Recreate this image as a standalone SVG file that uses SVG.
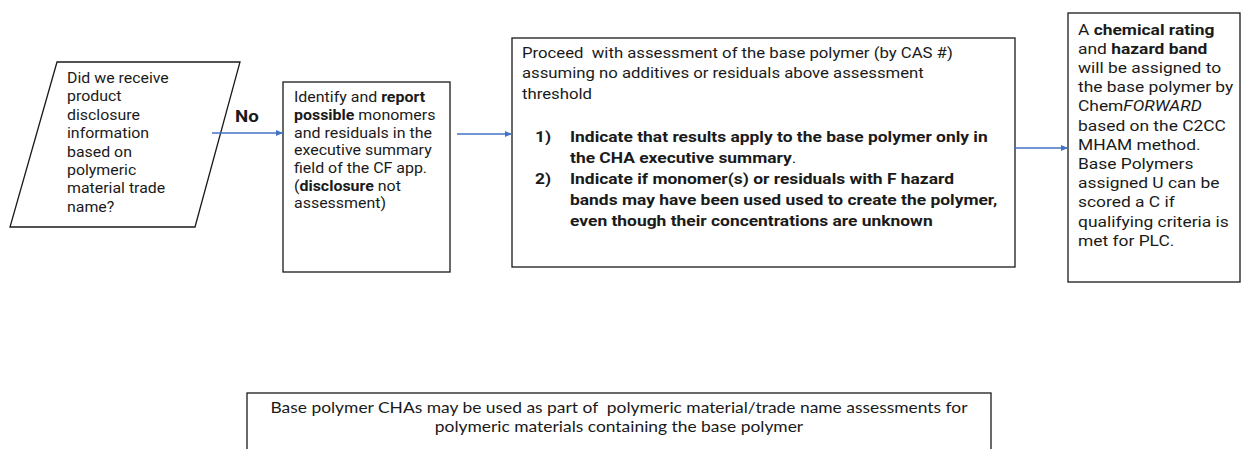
<svg xmlns="http://www.w3.org/2000/svg" width="1243" height="449" viewBox="0 0 1243 449">
<style>
.box{fill:#fff;stroke:#1a1a1a;stroke-width:1.3}
.t{font-family:Roboto,"Liberation Sans",sans-serif;font-size:14px;fill:#1a1a1a}
.b{font-weight:bold}
.n{font-weight:normal}
.i{font-style:italic}
.c{font-family:Lato,"Open Sans",sans-serif;font-size:15.5px;fill:#1a1a1a}
.conn{stroke:#4472C4;stroke-width:1.6;fill:none;marker-end:url(#ah)}
</style>
<defs>
<marker id="ah" markerWidth="8" markerHeight="8" refX="7" refY="4" orient="auto" markerUnits="userSpaceOnUse">
<path d="M0,1 L7,4 L0,7 z" fill="#4472C4"/>
</marker>
</defs>
<rect width="1243" height="449" fill="#fff"/>
<g id="n1">
<polygon class="box" points="57,62 240,62 195,227 10,227"/>
<g transform="translate(67,0) scale(1.136,1)">
<text class="t">
<tspan x="0" y="83">Did we receive</tspan>
<tspan x="0" y="101.5">product</tspan>
<tspan x="0" y="120">disclosure</tspan>
<tspan x="0" y="138.5">information</tspan>
<tspan x="0" y="157">based on</tspan>
<tspan x="0" y="175">polymeric</tspan>
<tspan x="0" y="193.5">material trade</tspan>
<tspan x="0" y="212">name?</tspan>
</text>
</g>
</g>
<g id="n2">
<rect class="box" x="283" y="82" width="167" height="190"/>
<g transform="translate(294,0) scale(1.14,1)">
<text class="t">
<tspan x="0" y="102">Identify and <tspan class="b">report</tspan></tspan>
<tspan x="0" y="120" class="b">possible<tspan class="n"> monomers</tspan></tspan>
<tspan x="0" y="138">and residuals in the</tspan>
<tspan x="0" y="155.5">executive summary</tspan>
<tspan x="0" y="173">field of the CF app.</tspan>
<tspan x="0" y="191">(<tspan class="b">disclosure</tspan> not</tspan>
<tspan x="0" y="208.5">assessment)</tspan>
</text>
</g>
</g>
<g id="n3">
<rect class="box" x="512" y="38" width="503" height="229"/>
<g transform="translate(522,0) scale(1.116,1)">
<text class="t" style="font-size:15px" xml:space="preserve"><tspan x="0" y="58">Proceed  with assessment of the base polymer (by CAS #)</tspan><tspan x="0" y="78.5">assuming no additives or residuals above assessment</tspan><tspan x="0" y="99">threshold</tspan></text>
</g>
<g transform="translate(535,0) scale(1.124,1)">
<text class="t b" style="font-size:15.5px"><tspan x="0" y="142">1)</tspan><tspan x="0" y="184.5">2)</tspan></text>
</g>
<g transform="translate(570,0) scale(1.124,1)">
<text class="t b" style="font-size:15.5px">
<tspan x="0" y="142">Indicate that results apply to the base polymer only in</tspan>
<tspan x="0" y="163">the CHA executive summary<tspan class="n">.</tspan></tspan>
<tspan x="0" y="184.5">Indicate if monomer(s) or residuals with F hazard</tspan>
<tspan x="0" y="205.5">bands may have been used used to create the polymer,</tspan>
<tspan x="0" y="226.5">even though their concentrations are unknown</tspan>
</text>
</g>
</g>
<g id="n4">
<rect class="box" x="1068" y="13" width="172" height="269"/>
<g transform="translate(1078,0) scale(1.16,1)">
<text class="t" style="font-size:15px">
<tspan x="0" y="35">A <tspan class="b">chemical rating</tspan></tspan>
<tspan x="0" y="54">and <tspan class="b">hazard band</tspan></tspan>
<tspan x="0" y="73">will be assigned to</tspan>
<tspan x="0" y="92.5">the base polymer by</tspan>
<tspan x="0" y="111.5">Chem<tspan class="i">FORWARD</tspan></tspan>
<tspan x="0" y="131">based on the C2CC</tspan>
<tspan x="0" y="150">MHAM method.</tspan>
<tspan x="0" y="169">Base Polymers</tspan>
<tspan x="0" y="188.5">assigned U can be</tspan>
<tspan x="0" y="207.5">scored a C if</tspan>
<tspan x="0" y="227">qualifying criteria is</tspan>
<tspan x="0" y="246">met for PLC.</tspan>
</text>
</g>
</g>
<g id="n5">
<rect class="box" x="247" y="393" width="744" height="70"/>
<g transform="translate(619,0) scale(1.124,1)">
<text class="c" text-anchor="middle" xml:space="preserve"><tspan x="0" y="413">Base polymer CHAs may be used as part of  polymeric material/trade name assessments for</tspan><tspan x="0" y="432">polymeric materials containing the base polymer</tspan></text>
</g>
</g>
<g id="connectors">
<line class="conn" x1="212" y1="133" x2="283" y2="133"/>
<g transform="translate(235,0) scale(1.17,1)"><text class="t b" x="0" y="122.5" style="font-size:16px">No</text></g>
<line class="conn" x1="457" y1="134" x2="512" y2="134"/>
<line class="conn" x1="1014" y1="148" x2="1068" y2="148"/>
</g>
</svg>
